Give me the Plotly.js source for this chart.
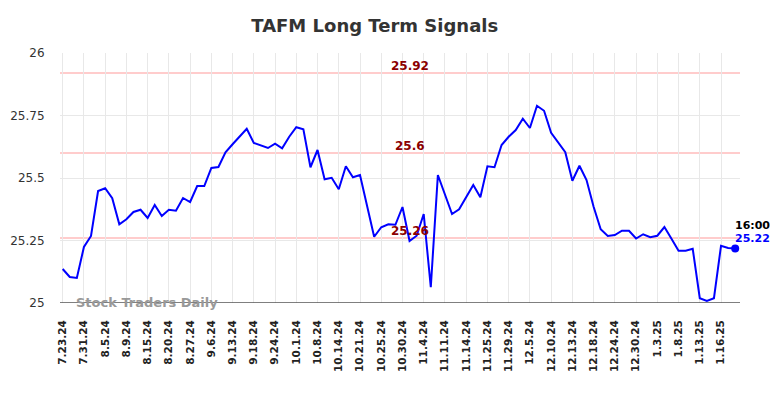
<!DOCTYPE html>
<html>
<head>
<meta charset="utf-8">
<script src="https://cdn.plot.ly/plotly-3.0.1.min.js"></script>
<style>html,body{margin:0;padding:0;background:#fff;}#chart{width:784px;height:398px;}</style>
</head>
<body>
<div id="chart"></div>
<script>
const tickLabels = ["7.23.24","7.31.24","8.5.24","8.9.24","8.15.24","8.20.24","8.27.24","9.6.24","9.13.24","9.18.24","9.24.24","10.1.24","10.8.24","10.14.24","10.21.24","10.25.24","10.30.24","11.4.24","11.11.24","11.14.24","11.25.24","11.29.24","12.5.24","12.10.24","12.13.24","12.18.24","12.24.24","12.30.24","1.3.25","1.8.25","1.13.25","1.16.25"];
const prices = [25.136,25.104,25.100,25.224,25.268,25.448,25.459,25.419,25.315,25.335,
25.364,25.373,25.340,25.392,25.348,25.373,25.369,25.420,25.404,25.468,
25.468,25.540,25.544,25.603,25.635,25.665,25.697,25.640,25.629,25.620,
25.637,25.619,25.665,25.703,25.695,25.543,25.612,25.495,25.501,25.455,
25.547,25.503,25.512,25.388,25.265,25.303,25.315,25.313,25.384,25.248,
25.269,25.356,25.063,25.512,25.432,25.356,25.375,25.421,25.472,25.423,
25.547,25.543,25.632,25.665,25.692,25.737,25.700,25.789,25.769,25.681,
25.641,25.603,25.489,25.549,25.492,25.385,25.295,25.268,25.272,25.289,
25.289,25.258,25.275,25.263,25.269,25.304,25.257,25.209,25.209,25.217,
25.019,25.008,25.019,25.229,25.220,25.218];
const signalLevels = [25.92, 25.6, 25.26];
const signalLabels = ["25.92", "25.6", "25.26"];
const lastTime = "16:00";
const lastLabel = "25.22";
const yTicks = [25, 25.25, 25.5, 25.75, 26];
const yTickText = ["25", "25.25", "25.5", "25.75", "26"];

const idx = prices.map((_, i) => i);
const tickIdx = tickLabels.map((_, k) => k * 3);
const lastI = prices.length - 1;

const shapes = signalLevels.map(v => ({
  type: 'line', xref: 'paper', x0: 0, x1: 1, yref: 'y', y0: v, y1: v,
  line: {color: '#ffcccc', width: 2}, layer: 'below'
}));

const annotations = signalLevels.map((v, k) => ({
  x: 49, y: v, xref: 'x', yref: 'y', text: '<b>' + signalLabels[k] + '</b>',
  showarrow: false, yanchor: 'bottom', yshift: -2,
  font: {family: 'DejaVu Sans', size: 12, color: '#8b0000'}
}));
annotations.push({
  x: 0.02, y: 25, xref: 'paper', yref: 'y', text: '<b>Stock Traders Daily</b>',
  showarrow: false, xanchor: 'left', yanchor: 'middle', yshift: 1,
  font: {family: 'DejaVu Sans', size: 13, color: '#999'}
});
annotations.push({
  x: lastI, y: prices[lastI], xref: 'x', yref: 'y', text: '<b>' + lastTime + '</b>',
  showarrow: false, xanchor: 'left', yanchor: 'bottom', xshift: -2, yshift: 15,
  font: {family: 'DejaVu Sans', size: 11, color: '#000'}
});
annotations.push({
  x: lastI, y: prices[lastI], xref: 'x', yref: 'y', text: '<b>' + lastLabel + '</b>',
  showarrow: false, xanchor: 'left', yanchor: 'bottom', xshift: -2, yshift: 2,
  font: {family: 'DejaVu Sans', size: 11, color: '#0000ff'}
});

const traces = [
  {x: idx, y: prices, type: 'scatter', mode: 'lines',
   line: {color: '#0000ff', width: 2}, hoverinfo: 'skip'},
  {x: [lastI], y: [prices[lastI]], type: 'scatter', mode: 'markers',
   marker: {color: '#0000ff', size: 8}, hoverinfo: 'skip'}
];

const layout = {
  width: 784, height: 398,
  margin: {l: 60, r: 44, t: 53, b: 95},
  paper_bgcolor: '#fff', plot_bgcolor: '#fff',
  showlegend: false,
  title: {text: '<b>TAFM Long Term Signals</b>', x: 0.478, xref: 'container', y: 0.935, yref: 'container',
    xanchor: 'center', yanchor: 'middle',
    font: {family: 'DejaVu Sans', size: 18, color: '#333'}},
  xaxis: {range: [-0.38, 95.68], tickmode: 'array', tickvals: tickIdx, ticktext: tickLabels,
    tickangle: -90, showgrid: true, gridcolor: '#e8e8e8', gridwidth: 1,
    zeroline: false, showline: false, ticks: 'outside', ticklen: 12, tickcolor: 'rgba(0,0,0,0)',
    tickfont: {family: 'DejaVu Sans', size: 10.5, color: '#222', weight: 'bold'}},
  yaxis: {range: [25, 26], tickmode: 'array', tickvals: yTicks, ticktext: yTickText,
    showgrid: true, gridcolor: '#e8e8e8', gridwidth: 1, zeroline: false, showline: false,
    ticks: 'outside', ticklen: 12, tickcolor: 'rgba(0,0,0,0)',
    tickfont: {family: 'DejaVu Sans', size: 12, color: '#333'}},
  shapes: shapes.concat([{type: 'line', xref: 'paper', x0: 0, x1: 1, yref: 'y', y0: 25, y1: 25,
    line: {color: '#555', width: 1.5}, layer: 'above'}]),
  annotations: annotations
};

Plotly.newPlot('chart', traces, layout, {displayModeBar: false, staticPlot: true});
</script>
</body>
</html>
